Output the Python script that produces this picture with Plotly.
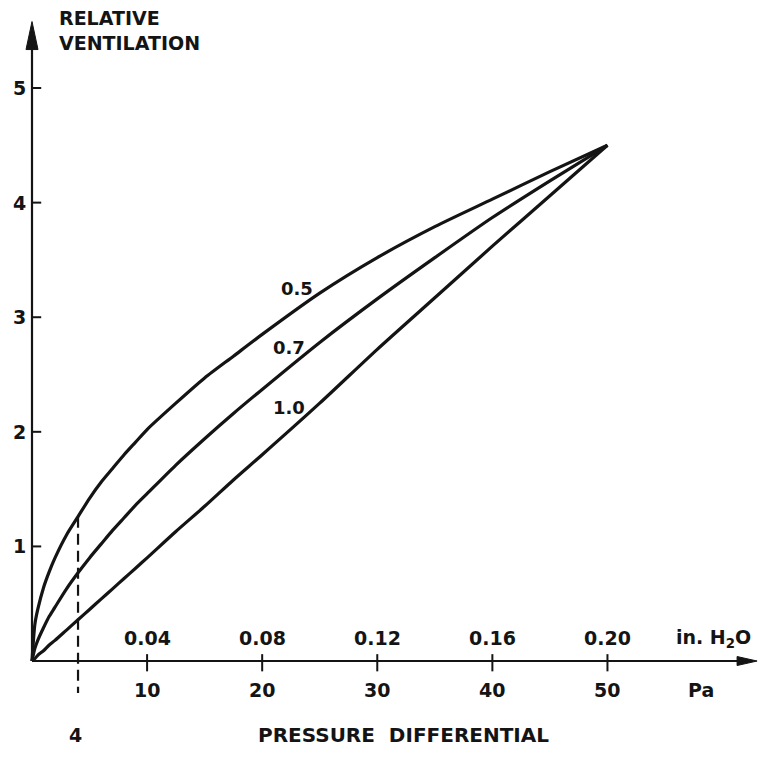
import plotly.graph_objects as go

# ---- data ----
pressure_pa = [0, 0.25, 0.5, 1, 1.5, 2, 3, 4, 5, 6, 7, 8, 9, 10, 12.5, 15, 17.5, 20, 25, 30, 35, 40, 45, 50]
vent_05 = [0, 0.32, 0.45, 0.64, 0.78, 0.90, 1.10, 1.26, 1.42, 1.56, 1.68, 1.80, 1.91, 2.02, 2.25, 2.47, 2.66, 2.85, 3.21, 3.52, 3.79, 4.03, 4.27, 4.50]
vent_07 = [0, 0.11, 0.18, 0.29, 0.39, 0.47, 0.63, 0.77, 0.90, 1.02, 1.14, 1.25, 1.36, 1.46, 1.71, 1.94, 2.16, 2.37, 2.78, 3.16, 3.52, 3.87, 4.19, 4.50]
vent_10 = [0, 0.02, 0.05, 0.09, 0.14, 0.18, 0.27, 0.36, 0.45, 0.54, 0.63, 0.72, 0.81, 0.90, 1.13, 1.35, 1.58, 1.80, 2.25, 2.72, 3.17, 3.62, 4.06, 4.50]
curve_names = ["0.5", "0.7", "1.0"]

x_tick_vals = [10, 20, 30, 40, 50]
x_tick_pa = ["10", "20", "30", "40", "50"]
x_tick_inh2o = ["0.04", "0.08", "0.12", "0.16", "0.20"]
y_tick_vals = [1, 2, 3, 4, 5]
y_tick_text = ["1", "2", "3", "4", "5"]
marker_p = 4

X_END = 63.0   # end of the pressure axis arrow
Y_END = 5.58   # end of the ventilation axis arrow

INK = "#141414"
FONT = dict(family="DejaVu Sans", size=19, color=INK, weight="bold")

fig = go.Figure()
for vals in (vent_05, vent_07, vent_10):
    fig.add_trace(go.Scatter(x=pressure_pa, y=vals, mode="lines",
                             line=dict(color=INK, width=3.2, shape="spline", smoothing=0.7),
                             hoverinfo="skip", showlegend=False))

# dashed marker line at P = 4
top_v = vent_05[pressure_pa.index(marker_p)]
fig.add_shape(type="line", x0=marker_p, x1=marker_p, y0=top_v, y1=-0.28,
              line=dict(color=INK, width=2.2, dash="11px,6px"))

# axis lines
fig.add_shape(type="line", x0=0, x1=X_END - 1.2, y0=0, y1=0, line=dict(color=INK, width=2.2))
fig.add_shape(type="line", x0=0, x1=0, y0=0, y1=Y_END - 0.15, line=dict(color=INK, width=2.2))
# arrow heads (pixel-sized paths anchored at the axis ends)
fig.add_shape(type="path", xsizemode="pixel", ysizemode="pixel", xanchor=X_END, yanchor=0,
              path="M 0 0 L -20 4.5 L -20 -4.5 Z", fillcolor=INK, line=dict(color=INK, width=1))
fig.add_shape(type="path", xsizemode="pixel", ysizemode="pixel", xanchor=0, yanchor=Y_END,
              path="M 0 0 L -6 -28 L 6 -28 Z", fillcolor=INK, line=dict(color=INK, width=1))

# x ticks and labels
for v, pa, inh in zip(x_tick_vals, x_tick_pa, x_tick_inh2o):
    fig.add_shape(type="line", x0=v, x1=v, y0=0.06, y1=-0.09, line=dict(color=INK, width=2))
    fig.add_annotation(x=v, y=0, yshift=-29, text=pa, showarrow=False, font=FONT)
    fig.add_annotation(x=v, y=0, yshift=23, text=inh, showarrow=False, font=FONT)
fig.add_annotation(x=X_END, y=0, xshift=-44, yshift=23, text="in. H<sub>2</sub>O", showarrow=False, font=FONT)
fig.add_annotation(x=X_END, y=0, xshift=-56, yshift=-29, text="Pa", showarrow=False, font=FONT)
fig.add_annotation(x=marker_p, y=0, xshift=-3, yshift=-74, text=str(marker_p), showarrow=False, font=FONT)

# y ticks and labels
for v, t in zip(y_tick_vals, y_tick_text):
    fig.add_shape(type="line", x0=0, x1=0.8, y0=v, y1=v, line=dict(color=INK, width=2))
    fig.add_annotation(x=0, y=v, xshift=-13, text=t, showarrow=False, font=FONT)

# curve labels
label_pos = [(23.0, 3.25), (22.3, 2.74), (22.3, 2.21)]
for name, (lx, ly) in zip(curve_names, label_pos):
    fig.add_annotation(x=lx, y=ly, text=name, showarrow=False, font=dict(FONT, size=18))

# axis titles
fig.add_annotation(xref="paper", yref="paper", x=57/758, y=1-5/766, xanchor="left", yanchor="top",
                   align="left", text="RELATIVE<br>VENTILATION", showarrow=False, font=FONT)
fig.add_annotation(xref="paper", yref="paper", x=403/758, y=1-749/766, text="PRESSURE  DIFFERENTIAL",
                   showarrow=False, font=dict(FONT, size=20))

fig.update_layout(
    width=758, height=766,
    margin=dict(l=0, r=0, t=0, b=0),
    paper_bgcolor="white", plot_bgcolor="white",
    xaxis=dict(range=[-2.78, 63.08], visible=False, fixedrange=True),
    yaxis=dict(range=[-0.916, 5.768], visible=False, fixedrange=True),
    showlegend=False,
)
fig.write_html("out.html", config={"displayModeBar": False},
               post_script="document.body.style.margin='0';document.body.style.overflow='hidden';")
